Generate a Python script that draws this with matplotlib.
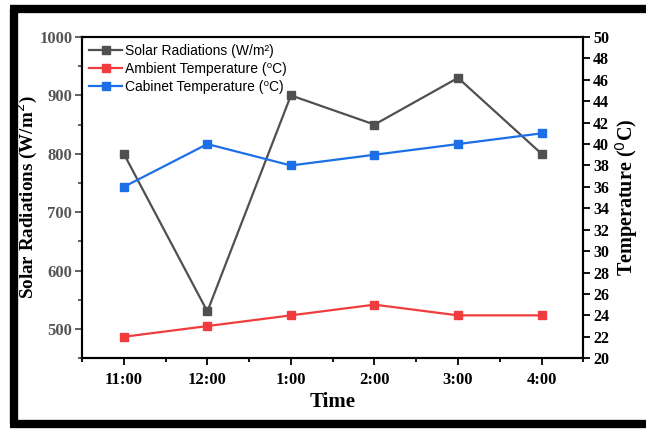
import matplotlib
matplotlib.use("Agg")
import matplotlib.pyplot as plt
from matplotlib.lines import Line2D
from matplotlib.ticker import MultipleLocator

times = ["11:00", "12:00", "1:00", "2:00", "3:00", "4:00"]
solar = [800, 530, 900, 850, 930, 800]
ambient = [22, 23, 24, 25, 24, 24]
cabinet = [36, 40, 38, 39, 40, 41]

plt.rcParams["font.family"] = ["Liberation Serif", "DejaVu Serif"]

fig = plt.figure(figsize=(6.46, 4.30), dpi=100)
ax = fig.add_axes([0.127, 0.167, 0.776, 0.747])
ax2 = ax.twinx()

x = list(range(len(times)))
l1, = ax.plot(x, solar, color="#505050", lw=1.6, marker="s", ms=5.5,
              label="Solar Radiations (W/m\u00b2)", zorder=3)
l2, = ax2.plot(x, ambient, color="#f03c3c", lw=1.6, marker="s", ms=6,
               label="Ambient Temperature (\u2070C)")
l3, = ax2.plot(x, cabinet, color="#1c6fe6", lw=1.6, marker="s", ms=6,
               label="Cabinet Temperature (\u2070C)")

ax.set_xlim(-0.5, 5.5)
ax.set_ylim(450, 1000)
ax2.set_ylim(20, 50)
ax.set_xticks(x)
ax.set_xticklabels(times, fontweight="bold", fontsize=12)
ax.xaxis.set_minor_locator(MultipleLocator(0.5))
ax.yaxis.set_major_locator(MultipleLocator(100))
ax.yaxis.set_minor_locator(MultipleLocator(50))
ax2.yaxis.set_major_locator(MultipleLocator(2))

ax.tick_params(axis="x", which="both", direction="out", width=1.3, top=False)
ax.tick_params(axis="x", which="major", length=5, pad=5)
ax.tick_params(axis="x", which="minor", length=3)
ax.tick_params(axis="y", which="both", colors="#555555", width=1.3, labelsize=12)
ax.tick_params(axis="y", which="major", length=5, pad=2)
ax.tick_params(axis="y", which="minor", length=3)
for lab in ax.get_yticklabels():
    lab.set_fontweight("bold")
ax2.tick_params(axis="y", direction="out", length=5, width=1.3, labelsize=11.5, pad=2)
for lab in ax2.get_yticklabels():
    lab.set_fontweight("bold")

for sp in ax.spines.values():
    sp.set_linewidth(1.5)
for sp in ax2.spines.values():
    sp.set_linewidth(1.5)

ax.set_xlabel("Time", fontsize=15, fontweight="bold", labelpad=3)
ax.set_ylabel("Solar Radiations (W/m$^2$)", fontsize=13.7, fontweight="bold", labelpad=0)
ax2.set_ylabel("Temperature ($^0$C)", fontsize=14.5, fontweight="bold", labelpad=3)

leg = ax.legend(handles=[l1, l2, l3], loc="upper left", frameon=False,
                prop={"family": ["Liberation Sans", "DejaVu Sans"], "size": 10},
                handlelength=2.4, handletextpad=0.2, labelspacing=0.3,
                borderaxespad=0.1, borderpad=0.4)

# black frame around the picture
fig.add_artist(Line2D([0.015, 1.0], [0.979, 0.979], color="black", lw=6,
                      transform=fig.transFigure, solid_capstyle="butt"))
fig.add_artist(Line2D([0.0217, 0.0217], [0.979, 0.014], color="black", lw=6,
                      transform=fig.transFigure, solid_capstyle="butt"))
fig.add_artist(Line2D([0.015, 1.0], [0.014, 0.014], color="black", lw=6,
                      transform=fig.transFigure, solid_capstyle="butt"))

fig.savefig("out.png", dpi=100)
